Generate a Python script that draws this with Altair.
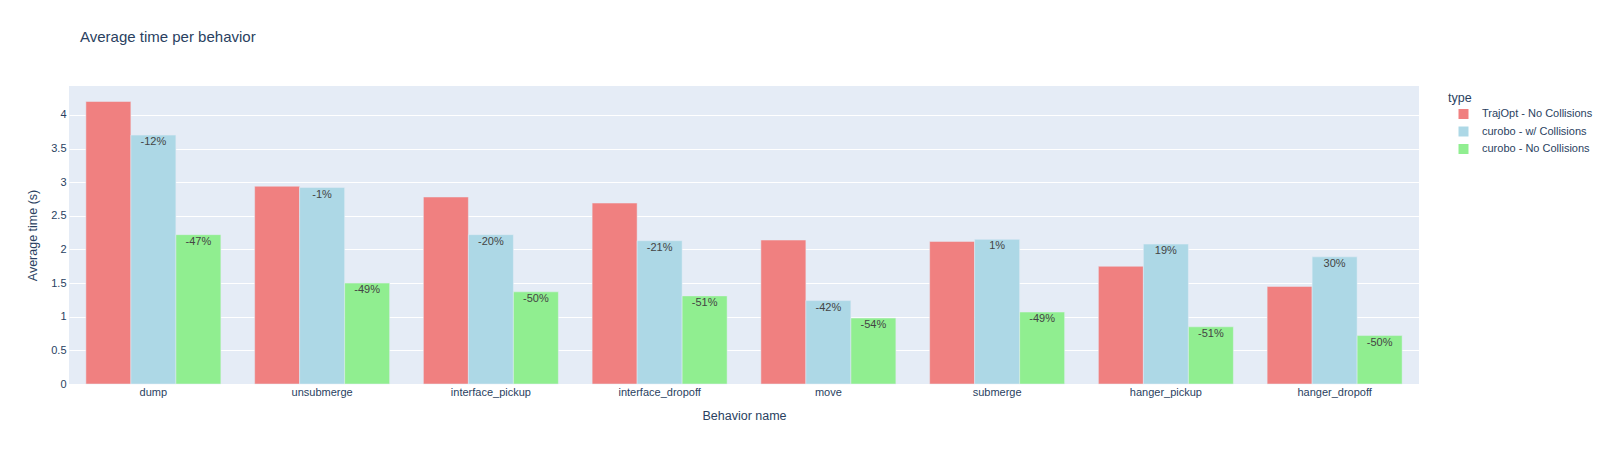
import altair as alt
import pandas as pd

behaviors = ["dump", "unsubmerge", "interface_pickup", "interface_dropoff",
             "move", "submerge", "hanger_pickup", "hanger_dropoff"]
types = ["TrajOpt - No Collisions", "curobo - w/ Collisions", "curobo - No Collisions"]
colors = ["#F08080", "#ADD8E6", "#90EE90"]

trajopt = [4.20, 2.94, 2.78, 2.69, 2.14, 2.12, 1.75, 1.45]
curobo_col = [3.70, 2.92, 2.22, 2.13, 1.24, 2.15, 2.08, 1.89]
curobo_nocol = [2.22, 1.50, 1.37, 1.31, 0.98, 1.07, 0.85, 0.72]

pct_col = ["-12%", "-1%", "-20%", "-21%", "-42%", "1%", "19%", "30%"]
pct_nocol = ["-47%", "-49%", "-50%", "-51%", "-54%", "-49%", "-51%", "-50%"]

y_ticks = [0, 0.5, 1, 1.5, 2, 2.5, 3, 3.5, 4]

rows = []
for i, b in enumerate(behaviors):
    rows.append({"behavior": b, "type": types[0], "time": trajopt[i], "label": ""})
    rows.append({"behavior": b, "type": types[1], "time": curobo_col[i], "label": pct_col[i]})
    rows.append({"behavior": b, "type": types[2], "time": curobo_nocol[i], "label": pct_nocol[i]})
df = pd.DataFrame(rows)

FONT = "Liberation Sans"
TXT = "#2a3f5f"
TICK = 11
ATITLE = 12.5

x_enc = alt.X("behavior:N", sort=behaviors, title="Behavior name",
              scale=alt.Scale(paddingInner=0.2, paddingOuter=0.1),
              axis=alt.Axis(labelAngle=0, ticks=False, domain=False, grid=False,
                            labelFontSize=TICK, labelColor=TXT, labelPadding=2,
                            titleFontSize=ATITLE, titleColor=TXT, titleFontWeight="normal",
                            titlePadding=12, labelFont=FONT, titleFont=FONT))
xo_enc = alt.XOffset("type:N", sort=types, scale=alt.Scale(paddingInner=0, paddingOuter=0))
y_enc = alt.Y("time:Q", title="Average time (s)",
              scale=alt.Scale(domain=[0, 4.43], nice=False),
              axis=alt.Axis(values=y_ticks, ticks=False, labelOverlap=False,
                            domain=False, gridColor="white", gridWidth=1,
                            labelFontSize=TICK, labelColor=TXT, labelPadding=3,
                            titleFontSize=ATITLE, titleColor=TXT, titleFontWeight="normal",
                            titlePadding=11, labelFont=FONT, titleFont=FONT,
                            labelExpr="format(datum.value, '~g')"))

bars = alt.Chart(df).mark_bar(stroke="#E5ECF6", strokeWidth=0.5).encode(
    x=x_enc,
    xOffset=xo_enc,
    y=y_enc,
    color=alt.Color("type:N", sort=types,
                    scale=alt.Scale(domain=types, range=colors),
                    legend=alt.Legend(title="type", orient="none", legendX=1379, legendY=6,
                                      symbolType="square", symbolSize=100,
                                      symbolStrokeWidth=0, symbolOffset=10,
                                      labelFontSize=TICK, labelColor=TXT, titleColor=TXT,
                                      titleFontSize=12.5, titleFontWeight="normal",
                                      labelOffset=13, rowPadding=5.5, titlePadding=4,
                                      labelFont=FONT, titleFont=FONT)),
)

labels = alt.Chart(df).mark_text(baseline="middle", dy=7, fontSize=TICK,
                                 color="#444444", font=FONT).encode(
    x=x_enc,
    xOffset=xo_enc,
    y=y_enc,
    text="label:N",
)

chart = alt.layer(bars, labels).properties(
    width=1350, height=298,
    background="white",
    title=alt.TitleParams("Average time per behavior", anchor="start", frame="group",
                          fontSize=15, color=TXT, fontWeight="normal", font=FONT,
                          offset=41, dx=11),
    autosize=alt.AutoSizeParams(type="none"),
    padding={"left": 69, "top": 86, "right": 181, "bottom": 70},
).configure_view(fill="#E5ECF6", strokeWidth=0)

chart.save("out.html", embed_options={"renderer": "svg", "actions": False})
